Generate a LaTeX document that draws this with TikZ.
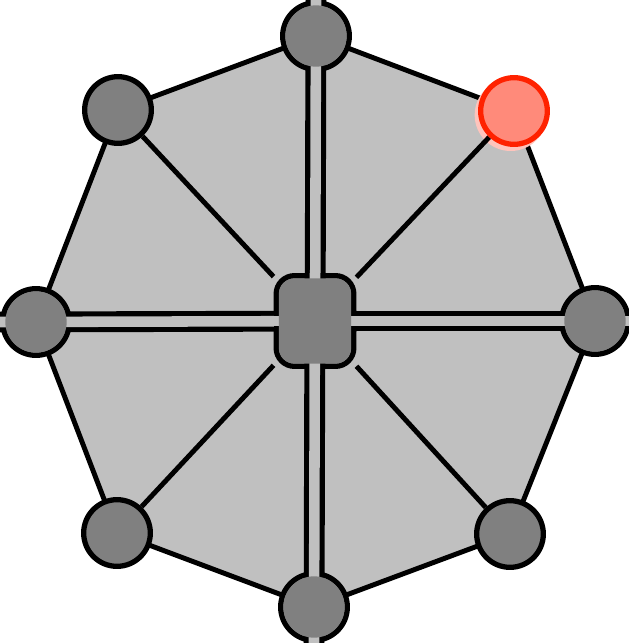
\documentclass[tikz,border=0pt]{standalone}
\usepackage{tikz}
\usetikzlibrary{backgrounds}
\definecolor{hubgray}{HTML}{808080}
\definecolor{facegray}{HTML}{C0C0C0}
\definecolor{alertred}{HTML}{FF2200}
\definecolor{alertfill}{HTML}{FF8A7A}
\definecolor{alerthalo}{HTML}{FFC4BC}

\begin{document}
\begin{tikzpicture}[x=0.03cm, y=-0.03cm,
    site/.style={circle, draw=black, fill=hubgray, line width=4.5pt,
                 minimum size=2cm, inner sep=0pt},
    hub/.style={rectangle, rounded corners=0.55cm, draw=black, fill=hubgray,
                line width=4.5pt, minimum width=2.33cm, minimum height=2.72cm, inner sep=0pt},
    spoke/.style={line width=4.2pt},
    bus/.style={line width=4.4pt, double=facegray, double distance=9pt}]
  \useasboundingbox (0,0) rectangle (629,643);
  % Hub and sites
  \node[hub] (c) at (315,321) {};
  \node[site] (top) at (316,36) {};
  \node[site] (tl) at (118,110) {};
  \node[site, draw=alertred, fill=alertfill] (tr) at (514,111) {};
  \node[site] (left) at (36,322) {};
  \node[site] (right) at (595,321) {};
  \node[site] (bl) at (117,533) {};
  \node[site] (br) at (510,534) {};
  \node[site] (bottom) at (314,607) {};
  % Octagon and diagonal spokes
  \begin{scope}[on background layer]
    \filldraw[fill=facegray, spoke, line join=round]
      (top.center) -- (tr.center) -- (right.center) -- (br.center) -- (bottom.center)
      -- (bl.center) -- (left.center) -- (tl.center) -- cycle;
    \fill[alerthalo] ([shift={(-0.1cm,-0.12cm)}]tr.center) circle (1.08cm);
    \foreach \s in {tl,tr,bl,br}
      \draw[spoke] (c) -- (\s);
  \end{scope}
  % Double buses through the hub
  \draw[bus] (top.north) -- (c.south);
  \draw[bus] (bottom.south) -- (c.north);
  \draw[bus] (left.west) -- (c.east);
  \draw[bus] (right.east) -- (c.west);
  % Refill the insides
  \foreach \s in {top,left,right,bottom}
    \fill[hubgray] (\s.center) circle (0.92cm);
  \fill[hubgray, rounded corners=0.47cm]
    ([shift={(-1.085cm,-1.28cm)}]c.center) rectangle ([shift={(1.085cm,1.28cm)}]c.center);
\end{tikzpicture}
\end{document}
